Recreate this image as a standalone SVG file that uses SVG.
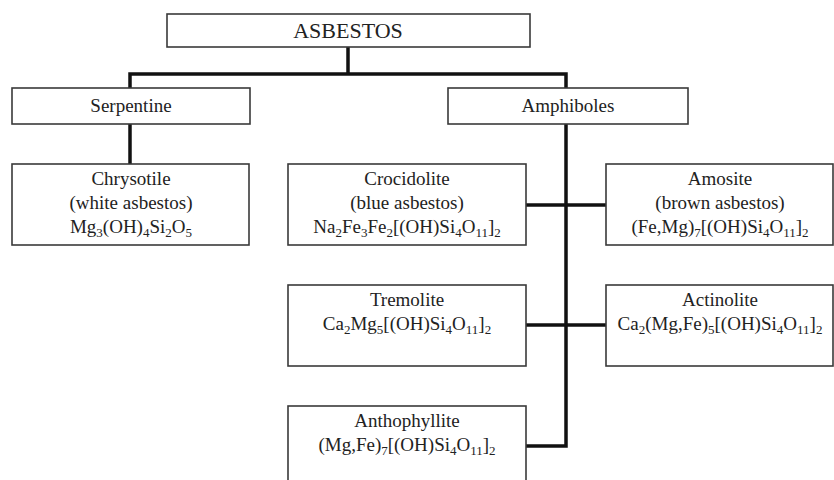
<svg xmlns="http://www.w3.org/2000/svg" width="834" height="480" viewBox="0 0 834 480">
<style>
.box{fill:#fff;stroke:#3a3a3a;stroke-width:1.6}
.t{font-family:"Liberation Serif","Times New Roman",serif;font-size:19px;fill:#222;text-anchor:middle}
.big{font-size:22px}
.s{font-size:13px;baseline-shift:-4px}
.c{fill:none;stroke:#111;stroke-width:3.5;stroke-linecap:square;stroke-linejoin:miter}
</style>
<rect width="834" height="480" fill="#fff"/>
<g id="connectors">
<path class="c" d="M348 47V74M130 88V74H566V88"/>
<path class="c" d="M130 124V164"/>
<path class="c" d="M566 124V446H527"/>
<path class="c" d="M527 205H605"/>
<path class="c" d="M527 325H605"/>
</g>
<g id="asbestos">
<rect class="box" x="167" y="14" width="363" height="33"/>
<text class="t big" x="348" y="38">ASBESTOS</text>
</g>
<g id="serpentine">
<rect class="box" x="12" y="88" width="238" height="36"/>
<text class="t" x="131" y="112">Serpentine</text>
</g>
<g id="amphiboles">
<rect class="box" x="448" y="88" width="240" height="36"/>
<text class="t" x="568" y="112">Amphiboles</text>
</g>
<g id="chrysotile">
<rect class="box" x="12" y="164" width="237" height="81"/>
<text class="t" x="131" y="185">Chrysotile</text>
<text class="t" x="131" y="209">(white asbestos)</text>
<text class="t" x="131" y="233">Mg<tspan class="s">3</tspan>(OH)<tspan class="s">4</tspan>Si<tspan class="s">2</tspan>O<tspan class="s">5</tspan></text>
</g>
<g id="crocidolite">
<rect class="box" x="288" y="164" width="238" height="81"/>
<text class="t" x="407" y="185">Crocidolite</text>
<text class="t" x="407" y="209">(blue asbestos)</text>
<text class="t" x="407" y="233">Na<tspan class="s">2</tspan>Fe<tspan class="s">3</tspan>Fe<tspan class="s">2</tspan>[(OH)Si<tspan class="s">4</tspan>O<tspan class="s">11</tspan>]<tspan class="s">2</tspan></text>
</g>
<g id="amosite">
<rect class="box" x="606" y="164" width="227" height="81"/>
<text class="t" x="720" y="185">Amosite</text>
<text class="t" x="720" y="209">(brown asbestos)</text>
<text class="t" x="720" y="233">(Fe,Mg)<tspan class="s">7</tspan>[(OH)Si<tspan class="s">4</tspan>O<tspan class="s">11</tspan>]<tspan class="s">2</tspan></text>
</g>
<g id="tremolite">
<rect class="box" x="288" y="285" width="238" height="81"/>
<text class="t" x="407" y="306">Tremolite</text>
<text class="t" x="407" y="330">Ca<tspan class="s">2</tspan>Mg<tspan class="s">5</tspan>[(OH)Si<tspan class="s">4</tspan>O<tspan class="s">11</tspan>]<tspan class="s">2</tspan></text>
</g>
<g id="actinolite">
<rect class="box" x="606" y="285" width="227" height="81"/>
<text class="t" x="720" y="306">Actinolite</text>
<text class="t" x="720" y="330">Ca<tspan class="s">2</tspan>(Mg,Fe)<tspan class="s">5</tspan>[(OH)Si<tspan class="s">4</tspan>O<tspan class="s">11</tspan>]<tspan class="s">2</tspan></text>
</g>
<g id="anthophyllite">
<rect class="box" x="288" y="406" width="238" height="90"/>
<text class="t" x="407" y="427">Anthophyllite</text>
<text class="t" x="407" y="451">(Mg,Fe)<tspan class="s">7</tspan>[(OH)Si<tspan class="s">4</tspan>O<tspan class="s">11</tspan>]<tspan class="s">2</tspan></text>
</g>
</svg>
